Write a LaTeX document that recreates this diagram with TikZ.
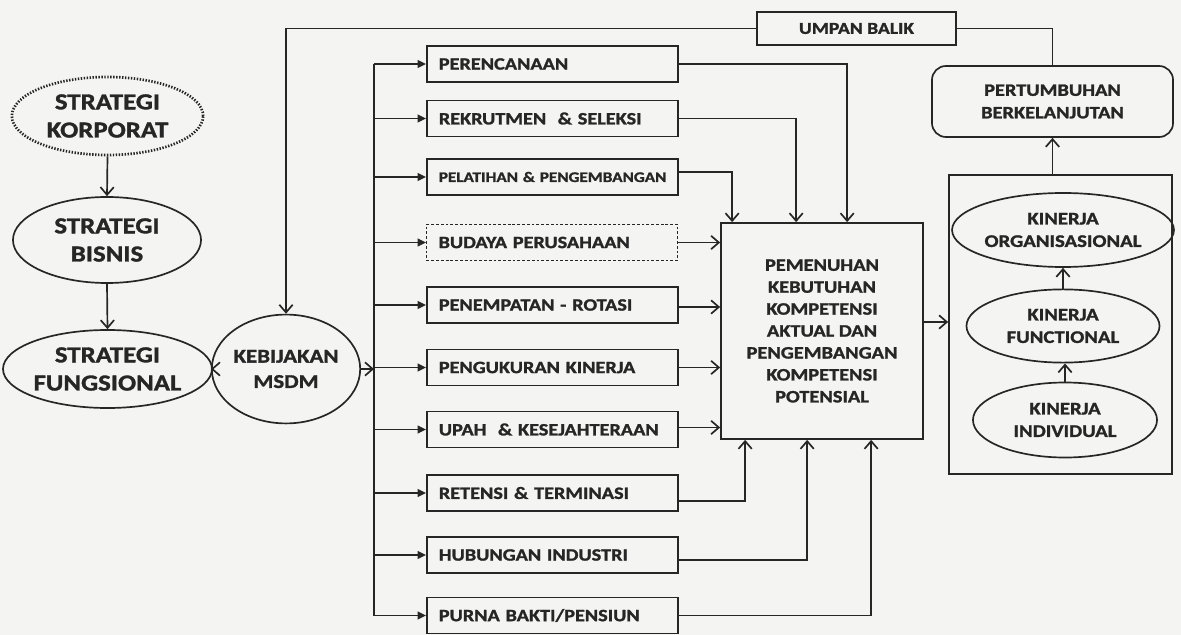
\documentclass[tikz,border=0pt]{standalone}
\usepackage{fontspec}
\setmainfont{Carlito}[FakeStretch=1.17, BoldFeatures={FakeBold=1.4}]
\usetikzlibrary{arrows.meta,shapes.geometric,calc}
\definecolor{ink}{HTML}{262626}
\definecolor{paper}{HTML}{F4F4F2}

\begin{document}
\begin{tikzpicture}[x=0.025cm, y=-0.025cm, line width=1.2pt, color=ink,
  oarr/.style={-{Straight Barb[length=5.5pt,width=9.5pt]}},
  farr/.style={-{Triangle[length=6pt,width=5.5pt]}},
  hrbox/.style={draw, rectangle, anchor=west, minimum height=0.9cm,
    text width=5.675cm, inner xsep=0.3cm, inner ysep=0pt, align=left,
    font=\bfseries\fontsize{12.3}{14}\selectfont},
  stratnode/.style={ellipse, draw, inner sep=0pt, align=center,
    font=\bfseries\fontsize{16.3}{20}\selectfont},
  kinerja/.style={ellipse, draw, inner sep=0pt, align=center,
    font=\bfseries\fontsize{12.6}{16}\selectfont},
]
% page
\fill[paper] (0,0) rectangle (1181,635);
\useasboundingbox (0,0) rectangle (1181,635);

% strategy chain
\node[stratnode, line width=1.9pt, dash pattern=on 1pt off 1.1pt,
      minimum width=4.78cm, minimum height=1.95cm] (korp) at (107.5,116) {STRATEGI\\KORPORAT};
\node[stratnode, minimum width=4.7cm, minimum height=2.15cm] (bis) at (107,240) {STRATEGI\\BISNIS};
\node[stratnode, minimum width=4.73cm, minimum height=1.95cm] (fung) at (107.5,369) {STRATEGI\\FUNGSIONAL};
\node[ellipse, draw, inner sep=0pt, align=center, minimum width=3.08cm, minimum height=2.72cm,
      font=\bfseries\fontsize{13.9}{18}\selectfont] (kebij) at (286,369) {KEBIJAKAN\\MSDM};

\draw[oarr] (korp.south) -- (bis.north);
\draw[oarr] (bis.south) -- (fung.north);
\draw[oarr] (fung.east) -- (kebij.west);

% HR function boxes
\node[hrbox] (perenc) at (426,64) {PERENCANAAN};
\node[hrbox] (rekrut) at (426,118.5) {REKRUTMEN\ \ \& SELEKSI};
\node[hrbox, font=\bfseries\fontsize{10.4}{12}\selectfont] (pelat) at (426,177) {\mbox{PELATIHAN \& PENGEMBANGAN}};
\node[hrbox, line width=0.8pt, dash pattern=on 2pt off 1.4pt] (budaya) at (426,242.5) {BUDAYA PERUSAHAAN};
\node[hrbox] (penemp) at (426,305) {PENEMPATAN - ROTASI};
\node[hrbox] (penguk) at (426,367.5) {PENGUKURAN KINERJA};
\node[hrbox] (upah) at (426,429.5) {UPAH\ \ \& KESEJAHTERAAN};
\node[hrbox] (retensi) at (426,493) {RETENSI \& TERMINASI};
\node[hrbox] (hubung) at (426,555) {HUBUNGAN INDUSTRI};
\node[hrbox] (purna) at (426,615.5) {PURNA BAKTI/PENSIUN};

% distribution trunk
\coordinate (trunk) at (374,64);
\coordinate (trunkend) at (374,615.5);
\draw (trunk) -- (trunkend);
\draw[oarr] (kebij.east) -- (kebij.east -| trunk);
\foreach \b in {perenc,rekrut,pelat,budaya,penemp,penguk,upah,retensi,hubung,purna}
  \draw[farr] (\b.west -| trunk) -- (\b.west);

% competency box
\node[draw, rectangle, minimum width=5.05cm, minimum height=5.4cm, inner sep=0pt, align=center,
      font=\bfseries\fontsize{12.4}{15.6}\selectfont] (pem) at (822,331)
  {PEMENUHAN\\KEBUTUHAN\\KOMPETENSI\\AKTUAL DAN\\PENGEMBANGAN\\KOMPETENSI\\POTENSIAL};

\draw[oarr] (perenc.east) -| ($(pem.north west)+(127,0)$);
\draw[oarr] (rekrut.east) -| ($(pem.north west)+(76,0)$);
\draw[oarr] ($(pelat.east)+(0,-5)$) -| ($(pem.north west)+(12,0)$);
\draw[oarr] (budaya.east) -- (budaya.east -| pem.west);
\draw[oarr] ($(penemp.east)+(0,2)$) -- ($(penemp.east -| pem.west)+(0,2)$);
\draw[oarr] (penguk.east) -- (penguk.east -| pem.west);
\draw[oarr] ($(upah.east)+(0,-2)$) -- ($(upah.east -| pem.west)+(0,-2)$);
\draw[oarr] ($(retensi.east)+(0,8)$) -| ($(pem.south west)+(25,0)$);
\draw[oarr] ($(hubung.east)+(0,5)$) -| ($(pem.south west)+(87,0)$);
\draw[oarr] (purna.east) -| ($(pem.south west)+(151,0)$);

% performance levels
\node[draw, rectangle, minimum width=5.575cm, minimum height=7.475cm, inner sep=0pt] (perf) at (1060.5,324.5) {};
\node[kinerja, minimum width=4.825cm, minimum height=1.85cm] (org) at (1063,230) {KINERJA\\ORGANISASIONAL};
\node[kinerja, minimum width=4.825cm, minimum height=1.83cm] (func) at (1063,326) {KINERJA\\FUNCTIONAL};
\node[kinerja, minimum width=4.6cm, minimum height=1.875cm] (indiv) at (1065,420) {KINERJA\\INDIVIDUAL};
\draw[oarr] (indiv.north) -- (indiv.north |- func.south);
\draw[oarr] (func.north) -- (func.north |- org.south);
\draw[oarr] ($(pem.east)+(0,-9)$) -- ($(pem.east -| perf.west)+(0,-9)$);

% growth and feedback
\node[draw, rectangle, rounded corners=0.35cm, minimum width=6.025cm, minimum height=1.775cm,
      inner sep=0pt, align=center, font=\bfseries\fontsize{12.4}{16}\selectfont] (pert) at (1052.5,101.5)
  {PERTUMBUHAN\\BERKELANJUTAN};
\draw[oarr] (perf.north -| pert.south) -- (pert.south);
\node[draw, rectangle, minimum width=4.975cm, minimum height=0.825cm, inner sep=0pt,
      font=\bfseries\fontsize{11.9}{14}\selectfont] (umpan) at (856.5,28.5) {UMPAN BALIK};
\draw (pert.north) |- (umpan.east);
\draw[oarr] (umpan.west) -| (kebij.north);
\end{tikzpicture}
\end{document}
